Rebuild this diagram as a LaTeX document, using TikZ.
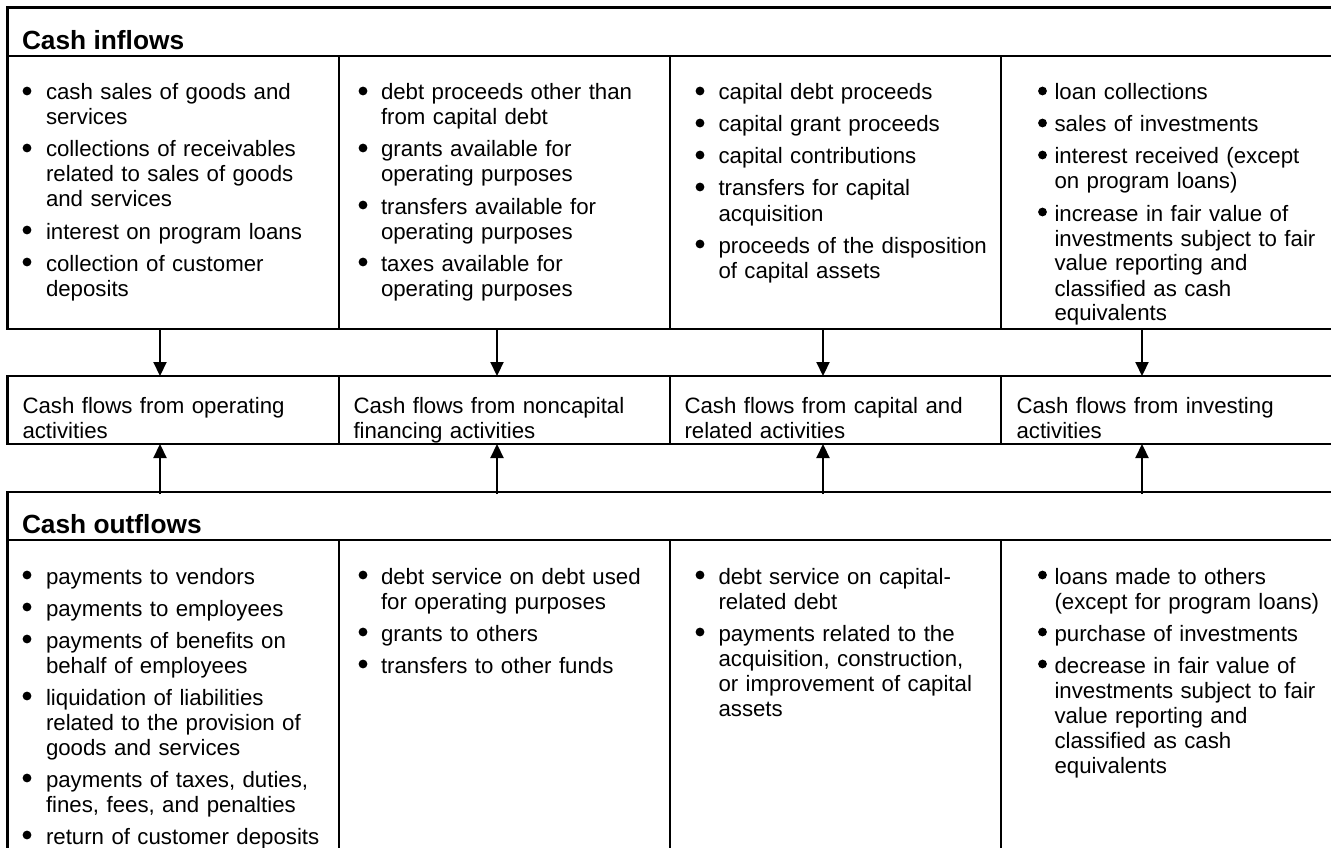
\documentclass[tikz,border=0pt]{standalone}
\usepackage{fontspec}
\setmainfont{Liberation Sans}
\usetikzlibrary{arrows.meta}
\newcounter{itm}
\newcommand\bitem[4]{\stepcounter{itm}%
  \node[bul] (bul\theitm) at (#1,#3-9) {};%
  \node[txt] (itm\theitm) at (#2,#3) {#4};}
\tikzset{
  txt/.style={anchor=base west, inner sep=0pt, outer sep=0pt, text width=300pt, align=left,
    font=\fontsize{22.25}{25}\selectfont},
  bul/.style={circle, fill=black, inner sep=0pt, outer sep=0pt, minimum size=8.8pt},
  hdr/.style={anchor=base west, inner sep=0pt, outer sep=0pt, font=\fontsize{26.3}{30}\selectfont\bfseries},
  frame/.style={line width=2.2pt, line cap=rect},
  cell/.style={draw, line width=2.2pt, rectangle, anchor=north west, inner sep=0pt, outer sep=0pt,
    minimum height=68pt},
  arr/.style={line width=2.2pt, -{Triangle[length=14pt,width=13pt]}},
}
\begin{document}
\begin{tikzpicture}[x=1pt,y=-1pt]
\useasboundingbox (0,0) rectangle (1331,848);
\fill[white] (0,0) rectangle (1331,848);
% ---------- top box ----------
\draw[frame] (1340,7.5) -- (7.5,7.5) -- (7.5,329) -- (1340,329);
\draw[frame] (7.5,56) -- (1340,56);
\foreach \x in {339,670,1001} \draw[frame] (\x,56) -- (\x,329);
\node[hdr] (hin) at (22,50) {Cash inflows};
% col 1
\bitem{27}{46}{100}{cash sales of goods and\\services}
\bitem{27}{46}{157}{collections of receivables\\related to sales of goods\\and services}
\bitem{27}{46}{239}{interest on program loans}
\bitem{27}{46}{271}{collection of customer\\deposits}
% col 2
\bitem{363}{381}{100}{debt proceeds other than\\from capital debt}
\bitem{363}{381}{157}{grants available for\\operating purposes}
\bitem{363}{381}{214}{transfers available for\\operating purposes}
\bitem{363}{381}{271}{taxes available for\\operating purposes}
% col 3
\bitem{700}{718.5}{100}{capital debt proceeds}
\bitem{700}{718.5}{132}{capital grant proceeds}
\bitem{700}{718.5}{164}{capital contributions}
\bitem{700}{718.5}{196}{transfers for capital\\acquisition}
\bitem{700}{718.5}{253}{proceeds of the disposition\\of capital assets}
% col 4
\bitem{1042.5}{1054.5}{100}{loan collections}
\bitem{1042.5}{1054.5}{132}{sales of investments}
\bitem{1042.5}{1054.5}{164}{interest received (except\\on program loans)}
\bitem{1042.5}{1054.5}{221}{increase in fair value of\\investments subject to fair\\value reporting and\\classified as cash\\equivalents}
% ---------- middle row ----------
\node[cell, minimum width=331.5pt] (m1) at (7.5,376) {};
\node[cell, minimum width=331pt] (m2) at (339,376) {};
\node[cell, minimum width=331pt] (m3) at (670,376) {};
\node[cell, minimum width=340pt] (m4) at (1001,376) {};
\node[txt] (mt1) at (22.5,413) {Cash flows from operating\\activities};
\node[txt] (mt2) at (353.5,413) {Cash flows from noncapital\\financing activities};
\node[txt] (mt3) at (684.5,413) {Cash flows from capital and\\related activities};
\node[txt] (mt4) at (1016.5,413) {Cash flows from investing\\activities};
% ---------- arrows ----------
\coordinate (ta1) at (160,329);  \coordinate (ba1) at (160,494);
\coordinate (ta2) at (497,329);  \coordinate (ba2) at (497,494);
\coordinate (ta3) at (823,329);  \coordinate (ba3) at (823,494);
\coordinate (ta4) at (1142,329); \coordinate (ba4) at (1142,494);
\foreach \i in {1,2,3,4} {
  \draw[arr] (ta\i) -- (ta\i |- m\i.north);
  \draw[arr] (ba\i) -- (ba\i |- m\i.south);
}
% ---------- bottom box ----------
\draw[frame] (1340,492) -- (7.5,492) -- (7.5,860);
\draw[frame] (7.5,540) -- (1340,540);
\foreach \x in {339,670,1001} \draw[frame] (\x,540) -- (\x,860);
\node[hdr] (hout) at (22,533) {Cash outflows};
% col 1
\bitem{27}{46}{584}{payments to vendors}
\bitem{27}{46}{616}{payments to employees}
\bitem{27}{46}{648}{payments of benefits on\\behalf of employees}
\bitem{27}{46}{705}{liquidation of liabilities\\related to the provision of\\goods and services}
\bitem{27}{46}{787}{payments of taxes, duties,\\fines, fees, and penalties}
\bitem{27}{46}{844}{return of customer deposits}
% col 2
\bitem{363}{381}{584}{debt service on debt used\\for operating purposes}
\bitem{363}{381}{641}{grants to others}
\bitem{363}{381}{673}{transfers to other funds}
% col 3
\bitem{700}{718.5}{584}{debt service on capital-\\related debt}
\bitem{700}{718.5}{641}{payments related to the\\acquisition, construction,\\or improvement of capital\\assets}
% col 4
\bitem{1042.5}{1054.5}{584}{loans made to others\\(except for program loans)}
\bitem{1042.5}{1054.5}{641}{purchase of investments}
\bitem{1042.5}{1054.5}{673}{decrease in fair value of\\investments subject to fair\\value reporting and\\classified as cash\\equivalents}
\end{tikzpicture}
\end{document}
